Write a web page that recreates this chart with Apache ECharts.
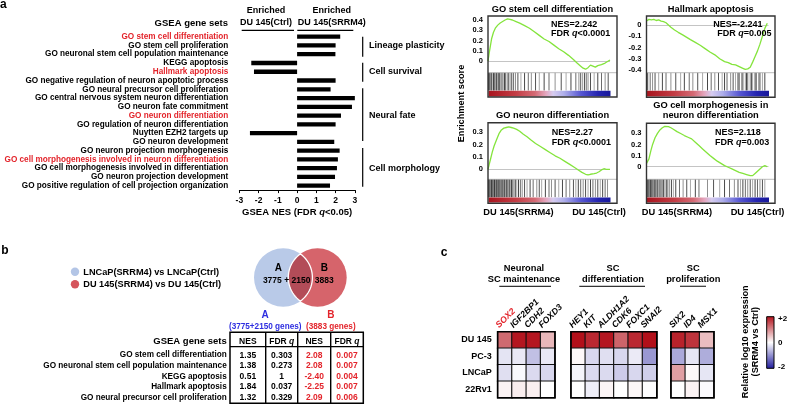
<!DOCTYPE html>
<html><head><meta charset="utf-8">
<script src="https://cdn.jsdelivr.net/npm/echarts@6/dist/echarts.min.js"></script>
<style>html,body{margin:0;padding:0;background:#fff}#c{width:789px;height:405px}</style>
</head><body><div id="c"></div>
<script>
// ---------------- DATA ----------------
const geneSets = [
  'GO stem cell differentiation','GO stem cell proliferation','GO neuronal stem cell population maintenance',
  'KEGG apoptosis','Hallmark apoptosis','GO negative regulation of neuron apoptotic process',
  'GO neural precursor cell proliferation','GO central nervous system neuron differentiation',
  'GO neuron fate commitment','GO neuron differentiation','GO regulation of neuron differentiation',
  'Nuytten EZH2 targets up','GO neuron development','GO neuron projection morphogenesis',
  'GO cell morphogenesis involved in neuron differentiation','GO cell morphogenesis involved in differentiation',
  'GO neuron projection development','GO positive regulation of cell projection organization'];
const redSets = ['GO stem cell differentiation','Hallmark apoptosis','GO neuron differentiation','GO cell morphogenesis involved in neuron differentiation'];
const nesValues = [2.24,2.00,1.99,-2.38,-2.24,2.00,1.74,3.10,2.85,2.28,2.00,-2.45,1.93,2.21,2.12,2.07,1.97,1.71];
const groups = ['Lineage plasticity','Cell survival','Neural fate','Cell morphology'];

const gseaTitles = [['GO stem cell differentiation'],['Hallmark apoptosis'],['GO neuron differentiation'],['GO cell morphogenesis in','neuron differentiation']];
const gseaNES = ['NES=2.242','NES=-2.241','NES=2.27','NES=2.118'];
const gseaFDR = ['<0.0001','=0.005','<0.0001','=0.003'];
const es1 = [[0,0],[0.01,0.08],[0.02,0.15],[0.03,0.22],[0.045,0.28],[0.06,0.32],[0.08,0.35],[0.1,0.37],[0.12,0.385],[0.14,0.4],[0.16,0.41],[0.18,0.405],[0.2,0.4],[0.23,0.385],[0.26,0.37],[0.3,0.345],[0.34,0.32],[0.38,0.285],[0.42,0.25],[0.46,0.215],[0.5,0.19],[0.54,0.155],[0.58,0.12],[0.62,0.09],[0.66,0.055],[0.7,0.015],[0.73,-0.02],[0.76,-0.05],[0.78,-0.07],[0.8,-0.08],[0.82,-0.065],[0.84,-0.04],[0.86,-0.05],[0.88,-0.06],[0.9,-0.045],[0.93,-0.035],[0.96,-0.02],[1,0.01]];
const es2 = [[0,0.035],[0.02,0.05],[0.04,0.045],[0.06,0.05],[0.08,0.04],[0.1,0.045],[0.12,0.035],[0.14,0.03],[0.16,0.02],[0.18,0.0],[0.2,-0.02],[0.23,-0.045],[0.26,-0.065],[0.3,-0.09],[0.33,-0.11],[0.36,-0.13],[0.4,-0.155],[0.44,-0.18],[0.48,-0.21],[0.52,-0.24],[0.56,-0.265],[0.6,-0.3],[0.64,-0.325],[0.67,-0.335],[0.7,-0.35],[0.73,-0.355],[0.76,-0.37],[0.79,-0.385],[0.81,-0.395],[0.83,-0.39],[0.85,-0.375],[0.87,-0.33],[0.89,-0.28],[0.91,-0.23],[0.93,-0.17],[0.95,-0.1],[0.97,-0.03],[0.99,0.015]];
const es3 = [[0,0],[0.01,0.04],[0.02,0.08],[0.035,0.14],[0.05,0.19],[0.07,0.24],[0.09,0.29],[0.11,0.32],[0.13,0.335],[0.15,0.34],[0.17,0.345],[0.19,0.34],[0.21,0.335],[0.235,0.325],[0.26,0.31],[0.29,0.285],[0.32,0.265],[0.35,0.24],[0.39,0.21],[0.43,0.185],[0.47,0.16],[0.51,0.135],[0.55,0.11],[0.59,0.09],[0.63,0.065],[0.67,0.04],[0.71,0.015],[0.74,-0.005],[0.77,-0.025],[0.8,-0.04],[0.82,-0.046],[0.84,-0.04],[0.87,-0.035],[0.89,-0.03],[0.91,-0.02],[0.93,-0.005],[0.95,0.005],[0.97,0.0],[1,0.0]];
const es4 = [[0,0.03],[0.01,0.04],[0.02,0.07],[0.035,0.14],[0.05,0.2],[0.07,0.26],[0.09,0.3],[0.11,0.33],[0.13,0.35],[0.15,0.362],[0.165,0.367],[0.18,0.36],[0.2,0.35],[0.22,0.337],[0.25,0.315],[0.28,0.298],[0.31,0.28],[0.34,0.265],[0.37,0.25],[0.4,0.22],[0.43,0.19],[0.46,0.16],[0.49,0.13],[0.52,0.1],[0.55,0.075],[0.58,0.05],[0.61,0.03],[0.64,0.01],[0.67,-0.005],[0.7,-0.02],[0.73,-0.035],[0.76,-0.05],[0.79,-0.06],[0.82,-0.07],[0.85,-0.08],[0.87,-0.08],[0.89,-0.06],[0.91,-0.04],[0.93,-0.02],[0.95,0.0],[0.97,0.01],[0.99,0.0]];
const hits1 = [0.005,0.012,0.02,0.028,0.035,0.045,0.052,0.06,0.07,0.078,0.088,0.095,0.105,0.115,0.125,0.135,0.145,0.158,0.17,0.182,0.195,0.21,0.225,0.245,0.27,0.3,0.33,0.355,0.39,0.42,0.46,0.5,0.55,0.6,0.64,0.68,0.72,0.745,0.76,0.775,0.79,0.805,0.82,0.84,0.87,0.9,0.93,0.96,0.985];
const hits2 = [0.01,0.03,0.05,0.07,0.1,0.13,0.16,0.2,0.24,0.28,0.31,0.35,0.38,0.42,0.46,0.5,0.53,0.56,0.59,0.62,0.64,0.66,0.69,0.71,0.73,0.75,0.76,0.78,0.79,0.81,0.82,0.83,0.85,0.86,0.87,0.89,0.9,0.92,0.93,0.95,0.97];
const hits3 = [0.003,0.008,0.013,0.018,0.023,0.028,0.033,0.038,0.043,0.048,0.053,0.058,0.064,0.07,0.076,0.082,0.088,0.094,0.1,0.107,0.114,0.121,0.128,0.135,0.142,0.15,0.158,0.166,0.175,0.184,0.193,0.203,0.213,0.224,0.236,0.25,0.265,0.28,0.3,0.32,0.345,0.37,0.4,0.42,0.44,0.47,0.5,0.52,0.55,0.58,0.61,0.64,0.67,0.7,0.72,0.74,0.76,0.78,0.8,0.82,0.84,0.86,0.88,0.9,0.92,0.94,0.96,0.98];
const hits4 = [0.004,0.01,0.016,0.022,0.028,0.034,0.04,0.047,0.054,0.061,0.068,0.076,0.084,0.092,0.1,0.11,0.12,0.13,0.14,0.15,0.162,0.175,0.19,0.205,0.22,0.24,0.27,0.3,0.33,0.36,0.4,0.43,0.5,0.55,0.6,0.64,0.68,0.72,0.75,0.77,0.79,0.81,0.83,0.85,0.87,0.89,0.91,0.93,0.95,0.97];
const esTicks1 = [0,0.1,0.2,0.3,0.4];
const esTicks2 = [0,-0.1,-0.2,-0.3,-0.4];
const esTicks3 = [0,0.1,0.2,0.3];
const esTicks4 = [0,0.1,0.2,0.3];

const legendB = ['LNCaP(SRRM4) vs LNCaP(Ctrl)','DU 145(SRRM4) vs DU 145(Ctrl)'];
const vennOnlyA = 3775, vennBoth = 2150, vennOnlyB = 3883;
const tableSets = ['GO stem cell differentiation','GO neuronal stem cell population maintenance','KEGG apoptosis','Hallmark apoptosis','GO neural precursor cell proliferation'];
const tableNesA = ['1.35','1.38','0.51','1.84','1.32'];
const tableFdrA = ['0.303','0.273','1','0.037','0.329'];
const tableNesB = ['2.08','2.08','-2.40','-2.25','2.09'];
const tableFdrB = ['0.007','0.007','0.004','0.007','0.006'];

const cellLines = ['DU 145','PC-3','LNCaP','22Rv1'];
const genesMaint = ['SOX2','IGF2BP1','CDH2','FOXD3'];
const genesDiff = ['HEY1','KIT','ALDH1A2','CDK6','FOXC1','SNAI2'];
const genesProl = ['SIX2','ID4','MSX1'];
const valsMaint = [[1.25,1.95,1.95,0.6],[-0.24,-0.2,-0.55,-0.2],[-0.28,-0.05,-0.32,-0.35],[0.1,0.15,0.13,0.0]];
const valsDiff = [[2.0,1.8,1.95,1.3,1.8,2.0],[0.06,-0.35,-0.28,-0.35,-0.18,-0.9],[-0.1,-0.32,-0.32,-0.45,-0.35,-0.42],[0.0,-0.15,0.08,0.0,0.07,-0.02]];
const valsProl = [[1.85,1.7,0.55],[-0.75,-0.22,-0.72],[0.8,0.05,-0.22],[0.0,0.1,-0.04]];
const heatGroups = [['Neuronal','SC maintenance'],['SC','differentiation'],['SC','proliferation']];
const cbarLabels = ['+2','0','-2'];

// ---------------- STYLE / LAYOUT ----------------
const FONT = '"Liberation Sans", Arial, Helvetica, sans-serif';
const RED = '#e3242b', BLUE = '#2e2ee0';
const B = 'bold';
function T(x, y, text, o) {
  o = o || {};
  const st = {text: text, fill: o.fill || '#000', fontSize: o.size || 9, fontWeight: o.weight || B,
    fontFamily: FONT, fontStyle: o.style || 'normal', align: o.align || 'left', verticalAlign: o.va || 'middle'};
  if (o.rich) st.rich = o.rich;
  return {type: 'text', x: x, y: y, rotation: o.rot || 0, z: 60, silent: true, style: st};
}
function L(x1, y1, x2, y2, w, c) {
  return {type: 'line', z: 55, silent: true, shape: {x1, y1, x2, y2}, style: {stroke: c || '#000', lineWidth: w || 1}};
}
function richI(size) { return {i: {fontStyle: 'italic', fontWeight: B, fontSize: size, fontFamily: FONT, fill: '#000'}}; }

const graphics = [];
const grids = [], xAxes = [], yAxes = [], series = [];

// ---------- Panel a: bar chart ----------
grids.push({left: 239.35, top: 32.3, width: 115.5, height: 157.8, outerBoundsMode: 'none'});
xAxes.push({gridIndex: 0, type: 'value', min: -3, max: 3, interval: 1,
  axisLine: {show: true, lineStyle: {color: '#000', width: 1}},
  axisTick: {show: true, length: 3, lineStyle: {color: '#000', width: 1}},
  splitLine: {show: false},
  axisLabel: {fontSize: 8.5, fontWeight: B, fontFamily: FONT, color: '#000', margin: 6},
  name: 'GSEA NES (FDR {i|q}<0.05)', nameLocation: 'middle', nameGap: 17,
  nameTextStyle: {fontSize: 9.5, fontWeight: B, fontFamily: FONT, color: '#000', verticalAlign: 'top',
    rich: {i: {fontStyle: 'italic', fontWeight: B, fontSize: 9.5, fontFamily: FONT, color: '#000'}}}});
yAxes.push({gridIndex: 0, type: 'category', data: geneSets, inverse: true,
  axisLine: {show: false}, axisTick: {show: false}, splitLine: {show: false},
  axisLabel: {interval: 0, margin: 11, fontSize: 8.2, fontWeight: B, fontFamily: FONT, color: '#000',
    formatter: v => redSets.indexOf(v) >= 0 ? '{r|' + v + '}' : v,
    rich: {r: {color: RED, fontSize: 8.2, fontWeight: B, fontFamily: FONT}}}});
series.push({type: 'bar', xAxisIndex: 0, yAxisIndex: 0, data: nesValues, barWidth: 4.3,
  itemStyle: {color: '#000'}, silent: true, animation: false});

graphics.push(T(3.3, 4.5, 'a', {size: 12, align: 'center'}));
graphics.push(T(228, 23, 'GSEA gene sets', {size: 9.5, align: 'right'}));
graphics.push(T(266, 10.5, 'Enriched', {size: 9, align: 'center'}));
graphics.push(T(266, 22.7, 'DU 145(Ctrl)', {size: 9, align: 'center'}));
graphics.push(T(331.7, 10.5, 'Enriched', {size: 9, align: 'center'}));
graphics.push(T(331.7, 22.7, 'DU 145(SRRM4)', {size: 9, align: 'center'}));
graphics.push(L(241.7, 30.3, 294, 30.3, 1.2));
graphics.push(L(297.3, 30.3, 353.3, 30.3, 1.2));
const brackets = [[36.7, 56.7, 45.3], [62.7, 81.7, 71.5], [88.3, 141, 116], [148, 186.7, 168.3]];
brackets.forEach((b, i) => {
  graphics.push(L(362.7, b[0], 362.7, b[1], 1.2));
  graphics.push(T(369, b[2], groups[i], {size: 9}));
});

// ---------- GSEA mini plots ----------
const esData = [es1, es2, es3, es4];
const hitData = [hits1, hits2, hits3, hits4];
const esTicks = [esTicks1, esTicks2, esTicks3, esTicks4];
const gp = [
  {bx: 488, by: 16, bw: 129, bh: 81, esB: 72.7, hitB: 90.5, cbB: 96.4, ymin: -0.114, ymax: 0.439, tY: [9.3], tx: 551, ny: 24.7, fy: 33.3},
  {bx: 646.5, by: 16, bw: 128.5, bh: 81.3, esB: 72.7, hitB: 90.5, cbB: 96.4, ymin: -0.424, ymax: 0.08, tY: [9.3], tx: 713.3, ny: 25, fy: 33.3},
  {bx: 488, by: 122.7, bw: 129, bh: 80.6, esB: 179.3, hitB: 197.3, cbB: 202.5, ymin: -0.081, ymax: 0.379, tY: [115], tx: 551.7, ny: 132.3, fy: 142.7},
  {bx: 646.5, by: 123.3, bw: 128.5, bh: 80, esB: 179.3, hitB: 197.3, cbB: 202.5, ymin: -0.113, ymax: 0.39, tY: [105, 115.3], tx: 715, ny: 132.3, fy: 142.7}
];
gp.forEach((p, i) => {
  const dw = 122;
  let gi = grids.length;
  grids.push({left: p.bx, top: p.by, width: dw, height: p.esB - p.by, outerBoundsMode: 'none'});
  xAxes.push({gridIndex: gi, type: 'value', min: 0, max: 1, show: false});
  yAxes.push({gridIndex: gi, type: 'value', min: p.ymin, max: p.ymax,
    axisLine: {show: false}, axisTick: {show: false}, splitLine: {show: false},
    axisLabel: {customValues: esTicks[i], fontSize: 7.5, fontWeight: B, fontFamily: FONT, color: '#000', margin: 5}});
  series.push({type: 'line', xAxisIndex: gi, yAxisIndex: gi, data: esData[i], showSymbol: false, silent: true,
    animation: false, lineStyle: {color: '#84e43c', width: 1.3}, z: 5,
    markLine: {silent: true, symbol: 'none', label: {show: false}, animation: false,
      lineStyle: {color: '#c4c4c4', width: 1, type: 'solid'}, data: [{yAxis: 0}]}});
  gi = grids.length;
  grids.push({left: p.bx, top: p.esB, width: dw, height: p.hitB - p.esB, outerBoundsMode: 'none'});
  xAxes.push({gridIndex: gi, type: 'value', min: 0, max: 1, show: false});
  yAxes.push({gridIndex: gi, type: 'value', min: 0, max: 1, show: false});
  series.push({type: 'scatter', xAxisIndex: gi, yAxisIndex: gi, silent: true, animation: false,
    symbol: 'rect', symbolSize: [0.9, p.hitB - p.esB],
    data: hitData[i].map(h => [h, 0.5]),
    itemStyle: {color: (pp) => ['#000', '#333', '#666', '#111', '#888'][pp.dataIndex % 5]}});
  graphics.push({type: 'rect', z: 58, silent: true, shape: {x: p.bx, y: p.by, width: p.bw, height: p.bh},
    style: {fill: 'none', stroke: '#333', lineWidth: 1.4}});
  graphics.push(L(p.bx, p.esB, p.bx + p.bw, p.esB, 0.8, '#aaa'));
  graphics.push({type: 'rect', z: 50, silent: true, shape: {x: p.bx + 0.5, y: p.hitB + 0.2, width: dw, height: p.cbB - p.hitB - 0.2},
    style: {fill: {type: 'linear', x: 0, y: 0, x2: 1, y2: 0, colorStops: [
      {offset: 0, color: '#a8141e'}, {offset: 0.22, color: '#c23c44'}, {offset: 0.38, color: '#d46a74'},
      {offset: 0.47, color: '#e4a6be'}, {offset: 0.53, color: '#d6ccf0'}, {offset: 0.62, color: '#aeaeea'},
      {offset: 0.76, color: '#5656d2'}, {offset: 0.9, color: '#2424b0'}, {offset: 1, color: '#18189a'}]}}});
  const cx = p.bx + p.bw / 2;
  gseaTitles[i].forEach((t, k) => graphics.push(T(cx, p.tY[k], t, {size: 9.3, align: 'center'})));
  graphics.push(T(p.tx, p.ny, gseaNES[i], {size: 9}));
  graphics.push(T(p.tx + (i === 1 ? 4 : 0), p.fy, 'FDR {i|q}' + gseaFDR[i], {size: 9, rich: richI(9)}));
  if (i >= 2) {
    graphics.push(T(p.bx + 30.5, 212.7, 'DU 145(SRRM4)', {size: 9.3, align: 'center'}));
    graphics.push(T(p.bx + 111, 212.7, 'DU 145(Ctrl)', {size: 9.3, align: 'center'}));
  }
});
graphics.push(T(461, 103.5, 'Enrichment score', {size: 9.2, align: 'center', rot: Math.PI / 2}));

// ---------- Panel b ----------
graphics.push(T(5, 250.3, 'b', {size: 12, align: 'center'}));
graphics.push({type: 'circle', z: 50, silent: true, shape: {cx: 75, cy: 271.7, r: 4.2}, style: {fill: '#b3c5e6'}});
graphics.push({type: 'circle', z: 50, silent: true, shape: {cx: 75, cy: 284.3, r: 4.2}, style: {fill: '#d5555c'}});
graphics.push(T(83.3, 272, legendB[0], {size: 9.2}));
graphics.push(T(83.3, 284.6, legendB[1], {size: 9.2}));
const vr = 29.2, vay = 277.5, vax = 283.2, vbx = 317.5;
graphics.push({type: 'circle', z: 40, silent: true, shape: {cx: vax, cy: vay, r: vr}, style: {fill: '#b9cae8'}});
graphics.push({type: 'circle', z: 41, silent: true, shape: {cx: vbx, cy: vay, r: vr}, style: {fill: '#d6646b'}});
(function () {
  const d = vbx - vax, a = Math.acos((d / 2) / vr), pts = [];
  for (let k = 0; k <= 24; k++) { const t = -a + 2 * a * k / 24; pts.push([vax + vr * Math.cos(t), vay + vr * Math.sin(t)]); }
  for (let k = 0; k <= 24; k++) { const t = Math.PI - a + 2 * a * k / 24; pts.push([vbx + vr * Math.cos(t), vay + vr * Math.sin(t)]); }
  graphics.push({type: 'polygon', z: 42, silent: true, shape: {points: pts}, style: {fill: '#b34c58', stroke: '#fff', lineWidth: 1.3}});
})();
graphics.push(T(278.3, 268.3, 'A', {size: 10, align: 'center'}));
graphics.push(T(276, 281, vennOnlyA + ' +', {size: 8.5, align: 'center'}));
graphics.push(T(301, 281, String(vennBoth), {size: 8.5, align: 'center'}));
graphics.push(T(324.3, 268.3, 'B', {size: 10, align: 'center'}));
graphics.push(T(324.3, 281, String(vennOnlyB), {size: 8.5, align: 'center'}));
graphics.push(T(265.2, 315.7, 'A', {size: 10, align: 'center', fill: BLUE}));
graphics.push(T(265.2, 326.7, '(' + vennOnlyA + '+' + vennBoth + ' genes)', {size: 8.2, align: 'center', fill: BLUE}));
graphics.push(T(330.8, 315.7, 'B', {size: 10, align: 'center', fill: RED}));
graphics.push(T(330.8, 326.7, '(' + vennOnlyB + ' genes)', {size: 8.2, align: 'center', fill: RED}));
const tx0 = 230, tx1 = 363.3, ty0 = 332.3, ty1 = 403.3, cols = [230, 265.7, 297.7, 330.7, 363.3];
graphics.push({type: 'rect', z: 55, silent: true, shape: {x: tx0, y: ty0, width: tx1 - tx0, height: ty1 - ty0},
  style: {fill: 'none', stroke: '#000', lineWidth: 1.5}});
[1, 2, 3].forEach(k => graphics.push(L(cols[k], ty0, cols[k], ty1, 1.4)));
graphics.push(L(tx0, 346.7, tx1, 346.7, 1.2));
graphics.push(T(226.7, 341.7, 'GSEA gene sets', {size: 9.5, align: 'right'}));
const colMid = k => (cols[k] + cols[k + 1]) / 2;
['NES', 'FDR {i|q}', 'NES', 'FDR {i|q}'].forEach((h, k) => graphics.push(T(colMid(k), 341.9, h, {size: 8.5, align: 'center', rich: richI(8.5)})));
tableSets.forEach((s, r) => {
  const y = 355.2 + r * 10.55;
  graphics.push(T(226.7, y, s, {size: 8.2, align: 'right'}));
  graphics.push(T(colMid(0), y, tableNesA[r], {size: 8.5, align: 'center'}));
  graphics.push(T(colMid(1), y, tableFdrA[r], {size: 8.5, align: 'center'}));
  graphics.push(T(colMid(2), y, tableNesB[r], {size: 8.5, align: 'center', fill: RED}));
  graphics.push(T(colMid(3), y, tableFdrB[r], {size: 8.5, align: 'center', fill: RED}));
});

// ---------- Panel c: heatmaps ----------
graphics.push(T(444, 252.3, 'c', {size: 12, align: 'center'}));
const heatBlocks = [
  {genes: genesMaint, vals: valsMaint, left: 497.7, title: heatGroups[0], tcx: 524, ul: [499.3, 551]},
  {genes: genesDiff, vals: valsDiff, left: 571, title: heatGroups[1], tcx: 613, ul: [579.3, 645]},
  {genes: genesProl, vals: valsProl, left: 671, title: heatGroups[2], tcx: 693.3, ul: [680, 706]}
];
const heatSeriesIdx = [], heatXAxisIdx = [];
heatBlocks.forEach((hb, bi) => {
  const gi = grids.length;
  heatXAxisIdx.push(gi);
  grids.push({left: hb.left, top: 331.7, width: hb.genes.length * 14.3, height: 66, outerBoundsMode: 'none',
    show: true, borderColor: '#000', borderWidth: 1.6, backgroundColor: 'transparent', z: 10});
  xAxes.push({gridIndex: gi, type: 'category', data: hb.genes, position: 'top',
    axisLine: {show: false}, axisTick: {show: false}, splitLine: {show: false}, axisLabel: {show: false}});
  yAxes.push({gridIndex: gi, type: 'category', data: cellLines, inverse: true,
    axisLine: {show: false}, axisTick: {show: false}, splitLine: {show: false},
    axisLabel: {show: bi === 0, interval: 0, margin: 6, fontSize: 9, fontWeight: B, fontFamily: FONT, color: '#000'}});
  const data = [];
  hb.vals.forEach((row, r) => row.forEach((v, c) => data.push([c, r, v])));
  heatSeriesIdx.push(series.length);
  series.push({type: 'heatmap', xAxisIndex: gi, yAxisIndex: gi, data: data, silent: true, animation: false,
    itemStyle: {borderColor: '#111', borderWidth: 1.1}});
  graphics.push(T(hb.tcx, 268.3, hb.title[0], {size: 9.3, align: 'center'}));
  graphics.push(T(hb.tcx, 279.5, hb.title[1], {size: 9.3, align: 'center'}));
  graphics.push(L(hb.ul[0], 286.3, hb.ul[1], 286.3, 1.2, '#333'));
});
graphics.push({type: 'rect', z: 50, silent: true, shape: {x: 766.7, y: 316.7, width: 7.3, height: 51.6},
  style: {fill: {type: 'linear', x: 0, y: 0, x2: 0, y2: 1, colorStops: [
    {offset: 0, color: '#b2101a'}, {offset: 0.5, color: '#ffffff'}, {offset: 1, color: '#1f1a9c'}]},
    stroke: '#000', lineWidth: 1}});
graphics.push(T(778, 318.5, cbarLabels[0], {size: 8}));
graphics.push(T(778, 342.5, cbarLabels[1], {size: 8}));
graphics.push(T(778, 367, cbarLabels[2], {size: 8}));
graphics.push(T(745.7, 341.7, 'Relative log10 expression', {size: 9.2, align: 'center', rot: Math.PI / 2}));
graphics.push(T(755.3, 341.7, '(SRRM4 vs Ctrl)', {size: 9.2, align: 'center', rot: Math.PI / 2}));

const option = {
  backgroundColor: '#fff',
  animation: false,
  textStyle: {fontFamily: FONT},
  grid: grids, xAxis: xAxes, yAxis: yAxes, series: series,
  visualMap: [{type: 'continuous', show: false, min: -2, max: 2, seriesIndex: heatSeriesIdx, dimension: 2,
    inRange: {color: ['#1f1a9c', '#ffffff', '#b2101a']}}],
  graphic: {elements: graphics}
};
const chart = echarts.init(document.getElementById('c'), null, {renderer: 'canvas'});
chart.setOption(option);

// rotated gene labels placed from the heatmap category axes
const geneLabels = [];
heatBlocks.forEach((hb, bi) => {
  hb.genes.forEach(g => {
    const cx = chart.convertToPixel({xAxisIndex: heatXAxisIdx[bi]}, g);
    geneLabels.push({type: 'text', x: cx - 4.3, y: 329.8, rotation: Math.PI / 4, z: 60, silent: true,
      style: {text: g, fill: g === 'SOX2' ? RED : '#000', fontSize: 8.8, fontWeight: B, fontStyle: 'italic',
        fontFamily: FONT, align: 'left', verticalAlign: 'bottom'}});
  });
});
chart.setOption({graphic: {elements: graphics.concat(geneLabels)}});
</script>
</body></html>
